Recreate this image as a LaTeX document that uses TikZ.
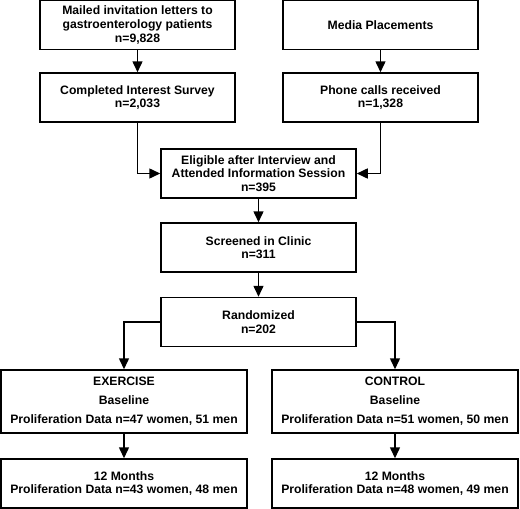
\documentclass[tikz,border=0pt]{standalone}
\usepackage{fontspec}
\setmainfont{Liberation Sans}
\usetikzlibrary{arrows.meta}
\begin{document}
\begin{tikzpicture}[x=1pt,y=-1pt,
  box/.style={draw=black,line width=1.5pt,fill=white,minimum width=195pt,minimum height=49pt,align=center,inner sep=0pt,font=\fontsize{12.2}{13.6}\selectfont\bfseries},
  wide/.style={box,minimum width=246pt},
  three/.style={wide,minimum height=63pt,font=\fontsize{12.2}{19}\selectfont\bfseries},
  conn/.style={line width=1.5pt,-{Triangle[length=11pt,width=10pt]}}
]
\useasboundingbox (0,0) rectangle (520,509);
\node[box] (mail) at (137.5,25) {Mailed invitation letters to\\gastroenterology patients\\n=9,828};
\node[box] (survey) at (137.5,97.5) {Completed Interest Survey\\n=2,033};
\node[box] (media) at (380.5,25) {Media Placements};
\node[box] (phone) at (380.5,97.5) {Phone calls received\\n=1,328};
\node[box] (elig) at (258.5,173.5) {Eligible after Interview and\\Attended Information Session\\n=395};
\node[box] (screen) at (258.5,247.5) {Screened in Clinic\\n=311};
\node[box] (rand) at (258.5,322) {Randomized\\n=202};
\node[three] (ex) at (124,401.5) {EXERCISE\\Baseline\\Proliferation Data n=47 women, 51 men};
\node[three] (ct) at (395,401.5) {CONTROL\\Baseline\\Proliferation Data n=51 women, 50 men};
\node[wide] (ex12) at (124,483.5) {12 Months\\Proliferation Data n=43 women, 48 men};
\node[wide] (ct12) at (395,483.5) {12 Months\\Proliferation Data n=48 women, 49 men};
\draw[conn] (mail) -- (survey);
\draw[conn] (media) -- (phone);
\draw[conn] (survey.south) |- (elig.west);
\draw[conn] (phone.south) |- (elig.east);
\draw[conn] (elig) -- (screen);
\draw[conn] (screen) -- (rand);
\draw[conn] (rand.west) -| (ex.north);
\draw[conn] (rand.east) -| (ct.north);
\draw[conn] (ex) -- (ex12);
\draw[conn] (ct) -- (ct12);
\end{tikzpicture}
\end{document}
